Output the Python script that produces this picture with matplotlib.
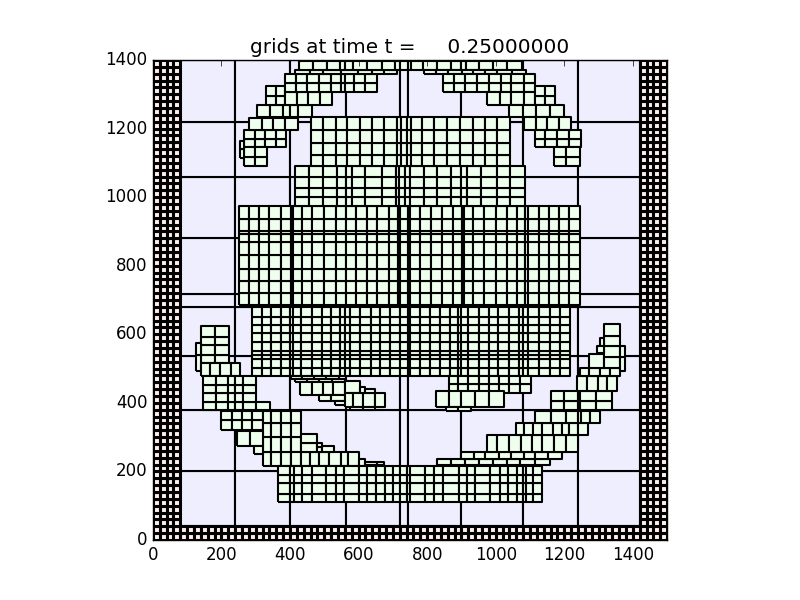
import matplotlib
matplotlib.use('Agg')
import matplotlib.pyplot as plt
from matplotlib.colors import ListedColormap
import numpy as np

# tick values and title
xticks = [0, 200, 400, 600, 800, 1000, 1200, 1400]
yticks = [0, 200, 400, 600, 800, 1000, 1200, 1400]
title = 'grids at time t =     0.25000000'

# coarse level
coarse_x = [80, 240, 400, 562, 722, 743, 900, 1080, 1240, 1420]
coarse_y = [40, 201, 379, 537, 680, 717, 881, 1059, 1219, 1400]

# ghost cells round the domain
ghost_left_x = [0, 20, 40, 60, 80]
ghost_right_x = [1420, 1440, 1460, 1480, 1500]
ghost_y = [0, 20, 40, 60, 80, 100, 120, 140, 160, 180, 200, 220, 240, 260, 280,
           300, 320, 340, 360, 380, 400, 420, 440, 460, 480, 500, 520, 540, 560,
           580, 600, 620, 640, 660, 680, 700, 720, 740, 760, 780, 800, 820, 840,
           860, 880, 900, 920, 940, 960, 980, 1000, 1020, 1040, 1060, 1080, 1100,
           1120, 1140, 1160, 1180, 1200, 1220, 1240, 1260, 1280, 1300, 1320, 1340,
           1360, 1380, 1400]
ghost_bottom_x = [80, 100, 120, 140, 160, 180, 200, 220, 240, 260, 280, 300, 320,
                  340, 360, 380, 400, 420, 440, 460, 480, 500, 520, 540, 560, 580,
                  600, 620, 640, 660, 680, 700, 720, 740, 760, 780, 800, 820, 840,
                  860, 880, 900, 920, 940, 960, 980, 1000, 1020, 1040, 1060, 1080,
                  1100, 1120, 1140, 1160, 1180, 1200, 1220, 1240, 1260, 1280, 1300,
                  1320, 1340, 1360, 1380, 1400, 1420]
ghost_bottom_y = [0, 20, 40]

# refined patches, centre
big_x = [251, 280, 310, 339, 375, 402, 408, 435, 465, 500, 533, 562, 592, 626, 655, 688,
         716, 722, 743, 750, 779, 811, 842, 876, 902, 908, 934, 966, 1000, 1032, 1061,
         1085, 1093, 1126, 1155, 1185, 1213, 1245]
big_y = [685, 720, 755, 790, 831, 869, 892, 901, 936, 974]
upper_x = [414, 456, 497, 536, 563, 580, 618, 667, 708, 718, 735, 750, 791, 829, 871, 900,
           917, 956, 1003, 1041, 1085]
upper_y = [974, 1001, 1027, 1059, 1090]
top_x = [461, 497, 533, 565, 604, 640, 675, 711, 723, 740, 753, 786, 821, 857, 896, 933,
         968, 1003, 1041]
top_y = [1091, 1123, 1159, 1196, 1235]
lower_x = [290, 317, 344, 373, 400, 409, 432, 463, 492, 521, 545, 560, 575, 604, 636, 662,
           691, 720, 744, 750, 779, 808, 837, 866, 891, 900, 920, 951, 980, 1007, 1038,
           1068, 1080, 1093, 1126, 1158, 1187, 1216]
lower_y = [478, 503, 527, 540, 552, 578, 603, 627, 651, 679]

# pieces under the lower block, right of centre
a1_x = [864, 891, 920, 951, 980, 1010, 1040, 1070, 1103]
a1_y = [428, 455, 478]
a2_x = [825, 864, 900, 941, 981, 1023]
a2_y = [389, 435]
a3_x = [855, 891, 927]
a3_y = [377, 389]

# pieces under the lower block, left of centre
b1_x = [402, 435, 469, 504, 543]
b1_y = [469, 478]
b2_x = [414, 450, 484, 523, 560]
b2_y = [460, 469]
b3_x = [429, 463, 497, 526, 560]
b3_y = [423, 460]
b4_x = [560, 604]
b4_y = [428, 464]
b5_x = [485, 521, 560]
b5_y = [405, 423]
b6_x = [531, 560]
b6_y = [393, 405]
b7_x = [560, 584, 613, 648, 677]
b7_y = [389, 428]
b8_x = [604, 619]
b8_y = [428, 445]
b9_x = [619, 648]
b9_y = [428, 440]
b10_x = [575, 612, 648]
b10_y = [378, 389]

# left side
c1_x = [140, 181, 222]
c1_y = [515, 540, 569, 593, 624]
c2_x = [125, 140]
c2_y = [494, 540, 574]
c3_x = [140, 166, 197, 227, 255]
c3_y = [479, 515]
c4_x = [147, 183, 220, 239, 263, 302]
c4_y = [379, 403, 428, 452, 479]
c5_x = [302, 341]
c5_y = [379, 403]
c6_x = [199, 231, 259, 290, 322]
c6_y = [320, 349, 377]
c7_x = [322, 346, 373, 402, 431]
c7_y = [217, 258, 300, 340, 377]
c8_x = [246, 283, 322]
c8_y = [274, 319]
c9_x = [296, 322]
c9_y = [250, 274]

# lower arc, left part
d1_x = [402, 431, 459, 486, 515, 548, 570, 601]
d1_y = [217, 258]
d2_x = [431, 478]
d2_y = [258, 284, 309]
d3_x = [478, 492]
d3_y = [258, 272, 284]
d4_x = [492, 528]
d4_y = [258, 274]
d5_x = [601, 619]
d5_y = [217, 235]
d6_x = [619, 654, 675]
d6_y = [218, 228]

# bottom block
bottom_x = [365, 401, 411, 435, 463, 505, 533, 557, 602, 625, 650, 676, 700, 722, 741, 751,
            795, 820, 846, 893, 916, 941, 983, 1012, 1036, 1061, 1080, 1087, 1109, 1136]
bottom_y = [111, 134, 166, 191, 217]

# lower arc, right part
e1_x = [829, 871, 911, 951, 991, 1032, 1070, 1114, 1158]
e1_y = [218, 235]
e2_x = [900, 936, 970, 1010, 1046, 1082, 1116, 1153, 1192]
e2_y = [235, 258]
e3_x = [975, 1004, 1039, 1073, 1106, 1136, 1171, 1206, 1241]
e3_y = [258, 306]
e4_x = [1060, 1083, 1109, 1136, 1166, 1192, 1213, 1241, 1270]
e4_y = [306, 340]
e5_x = [1116, 1161, 1206, 1239, 1250, 1275, 1304]
e5_y = [340, 377]
e6_x = [1161, 1200, 1241, 1246, 1292, 1338]
e6_y = [379, 405, 435]
e7_x = [1236, 1267, 1297, 1325, 1355]
e7_y = [435, 479]
e8_x = [1246, 1272, 1304, 1333, 1362]
e8_y = [479, 503]
e9_x = [1272, 1316]
e9_y = [503, 543]
e10_x = [1316, 1362]
e10_y = [503, 533, 567, 595, 630]
e11_x = [1362, 1376]
e11_y = [494, 533, 567]
e12_x = [1304, 1316]
e12_y = [567, 588]
e13_x = [1295, 1316]
e13_y = [545, 567]

# upper arc, left part
f1_x = [265, 297, 327, 358, 387]
f1_y = [1146, 1169, 1196]
f2_x = [265, 297, 332]
f2_y = [1092, 1118, 1146]
f3_x = [254, 265]
f3_y = [1113, 1140, 1165]
f4_x = [280, 317, 351, 385, 422]
f4_y = [1196, 1232]
f5_x = [304, 341, 380, 400, 424, 463]
f5_y = [1235, 1269]
f6_x = [330, 358, 385]
f6_y = [1269, 1296, 1324]
f7_x = [385, 419, 453, 487, 523]
f7_y = [1269, 1308]
f8_x = [385, 417, 451, 485, 521, 550, 560, 587, 619, 655]
f8_y = [1308, 1334, 1359]
f9_x = [414, 458, 497, 550, 597, 638, 673, 711]
f9_y = [1359, 1371]
f10_x = [427, 466, 507, 546, 560, 585, 626, 667, 706, 720, 744, 752, 789, 829, 871, 900,
         912, 951, 993, 1032, 1077]
f10_y = [1371, 1398]

# upper arc, right part
g1_x = [791, 827, 862, 901, 934, 968, 1003, 1048, 1087]
g1_y = [1359, 1371]
g2_x = [845, 878, 910, 946, 980, 1014, 1046, 1082, 1116]
g2_y = [1308, 1334, 1359]
g3_x = [975, 1012, 1046, 1082, 1116]
g3_y = [1269, 1308]
g4_x = [1116, 1143, 1172]
g4_y = [1269, 1296, 1324]
g5_x = [1039, 1080, 1117, 1158, 1198]
g5_y = [1233, 1269]
g6_x = [1082, 1117, 1151, 1184, 1221]
g6_y = [1196, 1233]
g7_x = [1114, 1145, 1180, 1213, 1248]
g7_y = [1146, 1169, 1196]
g8_x = [1170, 1206, 1246]
g8_y = [1091, 1118, 1146]

fine_grids = [
    (big_x, big_y), (upper_x, upper_y), (top_x, top_y), (lower_x, lower_y),
    (a1_x, a1_y), (a2_x, a2_y), (a3_x, a3_y),
    (b1_x, b1_y), (b2_x, b2_y), (b3_x, b3_y), (b4_x, b4_y), (b5_x, b5_y),
    (b6_x, b6_y), (b7_x, b7_y), (b8_x, b8_y), (b9_x, b9_y), (b10_x, b10_y),
    (c1_x, c1_y), (c2_x, c2_y), (c3_x, c3_y), (c4_x, c4_y), (c5_x, c5_y),
    (c6_x, c6_y), (c7_x, c7_y), (c8_x, c8_y), (c9_x, c9_y),
    (d1_x, d1_y), (d2_x, d2_y), (d3_x, d3_y), (d4_x, d4_y), (d5_x, d5_y), (d6_x, d6_y),
    (bottom_x, bottom_y),
    (e1_x, e1_y), (e2_x, e2_y), (e3_x, e3_y), (e4_x, e4_y), (e5_x, e5_y), (e6_x, e6_y),
    (e7_x, e7_y), (e8_x, e8_y), (e9_x, e9_y), (e10_x, e10_y), (e11_x, e11_y),
    (e12_x, e12_y), (e13_x, e13_y),
    (f1_x, f1_y), (f2_x, f2_y), (f3_x, f3_y), (f4_x, f4_y), (f5_x, f5_y),
    (f6_x, f6_y), (f7_x, f7_y), (f8_x, f8_y), (f9_x, f9_y), (f10_x, f10_y),
    (g1_x, g1_y), (g2_x, g2_y), (g3_x, g3_y), (g4_x, g4_y), (g5_x, g5_y),
    (g6_x, g6_y), (g7_x, g7_y), (g8_x, g8_y),
]


def draw_grid(ax, xe, ye, color, lw=1.5):
    vals = np.zeros((len(ye) - 1, len(xe) - 1))
    ax.pcolormesh(xe, ye, vals, cmap=ListedColormap([color]), edgecolors='k',
                  linewidth=lw, antialiased=True)


plt.style.use('classic')
fig = plt.figure(figsize=(8, 6), dpi=100, facecolor='white')
ax = fig.add_subplot(111)

draw_grid(ax, coarse_x, coarse_y, '#eeeeff')
draw_grid(ax, ghost_left_x, ghost_y, '#ffeeee', lw=2.2)
draw_grid(ax, ghost_right_x, ghost_y, '#ffeeee', lw=2.2)
draw_grid(ax, ghost_bottom_x, ghost_bottom_y, '#ffeeee', lw=2.2)
for xe, ye in fine_grids:
    draw_grid(ax, xe, ye, '#eeffee')

ax.set_xlim(0, 1500)
ax.set_ylim(0, 1400)
ax.set_xticks(xticks)
ax.set_yticks(yticks)
ax.set_aspect('equal')
ax.set_title(title)

fig.savefig('out.png', dpi=100, facecolor='white')
